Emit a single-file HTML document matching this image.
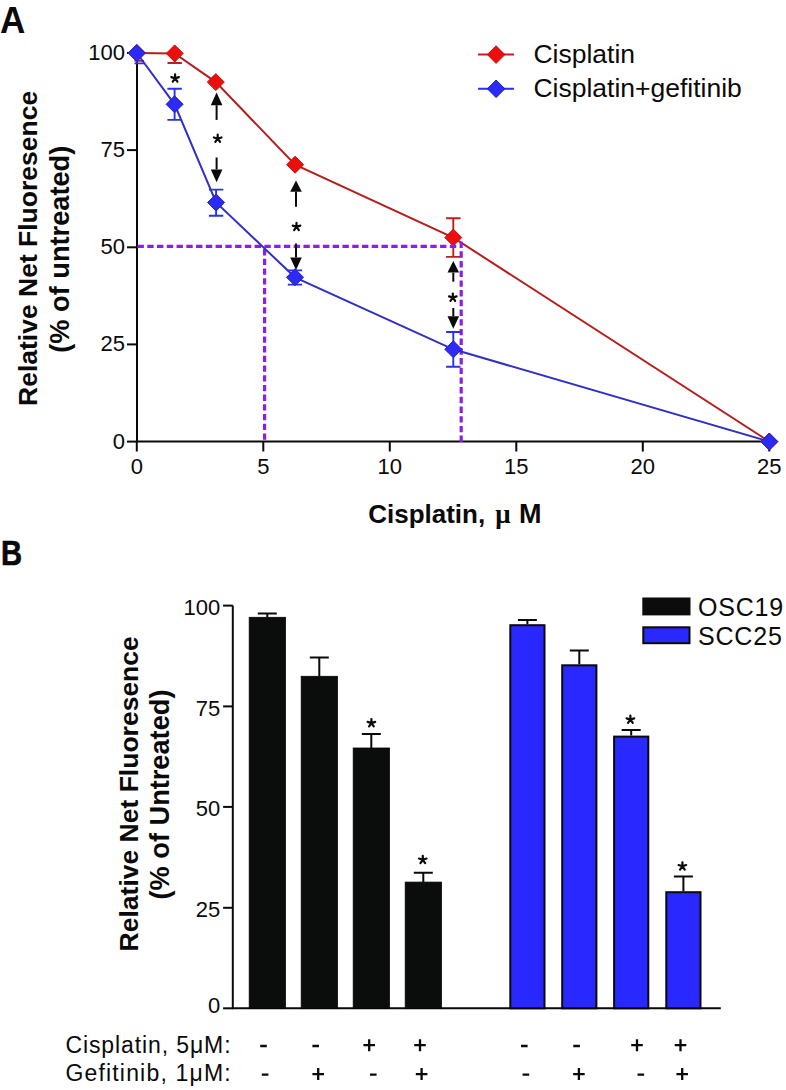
<!DOCTYPE html><html><head><meta charset="utf-8"><style>
html,body{margin:0;padding:0;background:#fff;width:786px;height:1090px;overflow:hidden}
svg{display:block}
text{font-family:"Liberation Sans",sans-serif}
</style></head><body>
<svg width="786" height="1090" viewBox="0 0 786 1090">
<text transform="translate(0,33.3) scale(1,1.05)" x="0" y="0" font-size="35" font-weight="bold" fill="#0a0a0a">A</text>
<g stroke="#0a0a0a" stroke-width="2" fill="none">
<path d="M137 52.9 V441.6 H769.3"/>
<path d="M127 441.6 H137"/>
<path d="M127 344.4 H137"/>
<path d="M127 247.3 H137"/>
<path d="M127 150.1 H137"/>
<path d="M127 52.9 H137"/>
<path d="M136.8 441.6 V451.5"/>
<path d="M263.3 441.6 V451.5"/>
<path d="M389.8 441.6 V451.5"/>
<path d="M516.3 441.6 V451.5"/>
<path d="M642.8 441.6 V451.5"/>
<path d="M769.3 441.6 V451.5"/>
</g>
<g font-size="22" fill="#0a0a0a" text-anchor="end">
<text x="124.9" y="448.6">0</text>
<text x="124.9" y="351.4">25</text>
<text x="124.9" y="254.3">50</text>
<text x="124.9" y="157.1">75</text>
<text x="124.9" y="59.9">100</text>
</g>
<g font-size="22" fill="#0a0a0a" text-anchor="middle">
<text x="136.8" y="473.8">0</text>
<text x="263.3" y="473.8">5</text>
<text x="389.8" y="473.8">10</text>
<text x="516.3" y="473.8">15</text>
<text x="642.8" y="473.8">20</text>
<text x="769.3" y="473.8">25</text>
</g>
<text transform="translate(36.7,406) rotate(-90)" font-size="26.5" font-weight="bold" fill="#0a0a0a">Relative Net Fluoresence</text>
<text transform="translate(69.4,352.7) rotate(-90)" font-size="27.2" font-weight="bold" fill="#0a0a0a">(% of untreated)</text>
<text x="368.2" y="523.3" font-size="26" font-weight="bold" fill="#0a0a0a">Cisplatin,</text>
<text x="495.3" y="523.3" font-size="27" font-weight="bold" fill="#0a0a0a" style="font-family:'Liberation Serif'">μ</text>
<text x="518.9" y="523.3" font-size="27" font-weight="bold" fill="#0a0a0a">M</text>
<polyline points="136.8,53.0 174.7,53.4 215.8,82.1 295.1,164.7 453.3,237.6 769.3,441.6" fill="none" stroke="#b61e1e" stroke-width="2"/>
<path d="M136.8 53 V60.9 M134.5 60.9 H144" stroke="#c41c1c" stroke-width="1.9" fill="none"/>
<path d="M174.7 53.4 V63.0 M167.5 63.0 H181.9" stroke="#c41c1c" stroke-width="1.9" fill="none"/>
<path d="M453.3 237.6 V218.2 M446.1 218.2 H460.5" stroke="#c41c1c" stroke-width="1.9" fill="none"/>
<path d="M453.3 237.6 V256.9 M446.1 256.9 H460.5" stroke="#c41c1c" stroke-width="1.9" fill="none"/>
<path d="M128.3 53.0 L136.8 44.5 L145.3 53.0 L136.8 61.5 Z" fill="#ec0d0d" stroke="#c01414" stroke-width="1"/>
<path d="M166.2 53.4 L174.7 44.9 L183.2 53.4 L174.7 61.9 Z" fill="#ec0d0d" stroke="#c01414" stroke-width="1"/>
<path d="M207.3 82.1 L215.8 73.6 L224.3 82.1 L215.8 90.6 Z" fill="#ec0d0d" stroke="#c01414" stroke-width="1"/>
<path d="M286.6 164.7 L295.1 156.2 L303.6 164.7 L295.1 173.2 Z" fill="#ec0d0d" stroke="#c01414" stroke-width="1"/>
<path d="M444.8 237.6 L453.3 229.1 L461.8 237.6 L453.3 246.1 Z" fill="#ec0d0d" stroke="#c01414" stroke-width="1"/>
<path d="M760.8 441.6 L769.3 433.1 L777.8 441.6 L769.3 450.1 Z" fill="#ec0d0d" stroke="#c01414" stroke-width="1"/>
<g stroke="#8c1ee6" stroke-width="3.2" fill="none">
<path d="M137.5 246.3 H459" stroke-dasharray="6.4 3.36"/>
<path d="M264.6 439.7 V248" stroke-dasharray="6.3 3.4"/>
<path d="M461.2 442 V241.4" stroke-dasharray="6.4 3.3"/>
</g>
<polyline points="136.8,53.0 174.6,104.3 216.1,202.5 295,277.3 453.3,349.3 769.3,441.6" fill="none" stroke="#3030c8" stroke-width="2"/>
<path d="M136.8 53 V63.4 M134.5 63.4 H144" stroke="#2a30e8" stroke-width="1.9" fill="none"/>
<path d="M174.6 104.3 V88.8 M167.4 88.8 H181.8" stroke="#2a30e8" stroke-width="1.9" fill="none"/>
<path d="M174.6 104.3 V119.9 M167.4 119.9 H181.8" stroke="#2a30e8" stroke-width="1.9" fill="none"/>
<path d="M216.1 202.5 V189.6 M208.9 189.6 H223.3" stroke="#2a30e8" stroke-width="1.9" fill="none"/>
<path d="M216.1 202.5 V215.7 M208.9 215.7 H223.3" stroke="#2a30e8" stroke-width="1.9" fill="none"/>
<path d="M295.0 277.3 V270.4 M287.8 270.4 H302.2" stroke="#2a30e8" stroke-width="1.9" fill="none"/>
<path d="M295.0 277.3 V284.6 M287.8 284.6 H302.2" stroke="#2a30e8" stroke-width="1.9" fill="none"/>
<path d="M453.3 349.3 V332.0 M446.1 332.0 H460.5" stroke="#2a30e8" stroke-width="1.9" fill="none"/>
<path d="M453.3 349.3 V366.7 M446.1 366.7 H460.5" stroke="#2a30e8" stroke-width="1.9" fill="none"/>
<path d="M128.3 53.0 L136.8 44.5 L145.3 53.0 L136.8 61.5 Z" fill="#2b2bf5" stroke="#2020c8" stroke-width="1"/>
<path d="M166.1 104.3 L174.6 95.8 L183.1 104.3 L174.6 112.8 Z" fill="#2b2bf5" stroke="#2020c8" stroke-width="1"/>
<path d="M207.6 202.5 L216.1 194.0 L224.6 202.5 L216.1 211.0 Z" fill="#2b2bf5" stroke="#2020c8" stroke-width="1"/>
<path d="M286.5 277.3 L295.0 268.8 L303.5 277.3 L295.0 285.8 Z" fill="#2b2bf5" stroke="#2020c8" stroke-width="1"/>
<path d="M444.8 349.3 L453.3 340.8 L461.8 349.3 L453.3 357.8 Z" fill="#2b2bf5" stroke="#2020c8" stroke-width="1"/>
<path d="M760.8 441.6 L769.3 433.1 L777.8 441.6 L769.3 450.1 Z" fill="#2b2bf5" stroke="#2020c8" stroke-width="1"/>
<path d="M216.6 105.2 V119.9" stroke="#0a0a0a" stroke-width="2"/><path d="M216.6 92.4 L222.4 105.2 L210.79999999999998 105.2 Z" fill="#0a0a0a"/>
<path d="M216.6 157.5 V169.4" stroke="#0a0a0a" stroke-width="2"/><path d="M216.6 182.3 L222.4 169.4 L210.79999999999998 169.4 Z" fill="#0a0a0a"/>
<path d="M296 191.7 V206.8" stroke="#0a0a0a" stroke-width="2"/><path d="M296 180.4 L301.8 191.7 L290.2 191.7 Z" fill="#0a0a0a"/>
<path d="M296 243.5 V257.5" stroke="#0a0a0a" stroke-width="2"/><path d="M296 270 L301.8 257.5 L290.2 257.5 Z" fill="#0a0a0a"/>
<path d="M453.3 272.6 V281.7" stroke="#0a0a0a" stroke-width="2"/><path d="M453.3 261 L459.1 272.6 L447.5 272.6 Z" fill="#0a0a0a"/>
<path d="M453.3 308 V316.3" stroke="#0a0a0a" stroke-width="2"/><path d="M453.3 328.7 L459.1 316.3 L447.5 316.3 Z" fill="#0a0a0a"/>
<path d="M175.10 78.40 L175.10 74.40 M175.10 78.40 L178.90 77.16 M175.10 78.40 L177.45 81.64 M175.10 78.40 L172.75 81.64 M175.10 78.40 L171.30 77.16 " stroke="#0a0a0a" stroke-width="2.2" stroke-linecap="round" fill="none"/>
<path d="M217.70 138.70 L217.70 134.70 M217.70 138.70 L221.50 137.46 M217.70 138.70 L220.05 141.94 M217.70 138.70 L215.35 141.94 M217.70 138.70 L213.90 137.46 " stroke="#0a0a0a" stroke-width="2.2" stroke-linecap="round" fill="none"/>
<path d="M296.50 226.90 L296.50 222.90 M296.50 226.90 L300.30 225.66 M296.50 226.90 L298.85 230.14 M296.50 226.90 L294.15 230.14 M296.50 226.90 L292.70 225.66 " stroke="#0a0a0a" stroke-width="2.2" stroke-linecap="round" fill="none"/>
<path d="M452.80 297.60 L452.80 293.60 M452.80 297.60 L456.60 296.36 M452.80 297.60 L455.15 300.84 M452.80 297.60 L450.45 300.84 M452.80 297.60 L449.00 296.36 " stroke="#0a0a0a" stroke-width="2.2" stroke-linecap="round" fill="none"/>
<path d="M478 54.6 H514" stroke="#c41c1c" stroke-width="2"/><path d="M487.3 54.6 L496.1 45.8 L504.9 54.6 L496.1 63.4 Z" fill="#ec0d0d" stroke="#c01414" stroke-width="1"/>
<path d="M478 88.8 H514" stroke="#2a30e8" stroke-width="2"/><path d="M487.3 88.8 L496.1 80.0 L504.9 88.8 L496.1 97.6 Z" fill="#2b2bf5" stroke="#2020c8" stroke-width="1"/>
<text x="533.4" y="63" font-size="26.5" fill="#0a0a0a">Cisplatin</text>
<text x="533.4" y="97" font-size="26.5" fill="#0a0a0a">Cisplatin+gefitinib</text>
<text transform="translate(1.1,565.2) scale(0.86,1.02)" font-size="34" font-weight="bold" fill="#0a0a0a" stroke="#0a0a0a" stroke-width="0.6">B</text>
<g stroke="#0a0a0a" stroke-width="2" fill="none">
<path d="M232.8 605.6 V1008.3 H720.8"/>
<path d="M223.1 605.6 H232.8"/>
<path d="M223.1 706.4 H232.8"/>
<path d="M223.1 806.9 H232.8"/>
<path d="M223.1 907.8 H232.8"/>
<path d="M223.1 1008.3 H232.8"/>
</g>
<g font-size="22" fill="#0a0a0a" text-anchor="end">
<text x="220.3" y="614.7">100</text>
<text x="220.3" y="715.5">75</text>
<text x="220.3" y="816.0">50</text>
<text x="220.3" y="916.9">25</text>
<text x="220.3" y="1013.3">0</text>
</g>
<text transform="translate(137.5,951.4) rotate(-90)" font-size="26.5" font-weight="bold" fill="#0a0a0a">Relative Net Fluoresence</text>
<text transform="translate(168.6,899.5) rotate(-90)" font-size="27.2" font-weight="bold" fill="#0a0a0a">(% of Untreated)</text>
<rect x="249.2" y="617.3" width="36.2" height="391.0" fill="#0b0d0c" stroke="#000" stroke-width="0.8"/>
<path d="M267.3 617.3 V613.6 M257.8 613.6 H276.8" stroke="#0a0a0a" stroke-width="2" fill="none"/>
<rect x="301.2" y="676.3" width="36.2" height="332.0" fill="#0b0d0c" stroke="#000" stroke-width="0.8"/>
<path d="M319.3 676.3 V657.4 M309.8 657.4 H328.8" stroke="#0a0a0a" stroke-width="2" fill="none"/>
<rect x="353.2" y="748" width="36.2" height="260.3" fill="#0b0d0c" stroke="#000" stroke-width="0.8"/>
<path d="M371.3 748 V733.9 M361.8 733.9 H380.8" stroke="#0a0a0a" stroke-width="2" fill="none"/>
<rect x="405.2" y="882.1" width="36.2" height="126.2" fill="#0b0d0c" stroke="#000" stroke-width="0.8"/>
<path d="M423.3 882.1 V872.7 M413.8 872.7 H432.8" stroke="#0a0a0a" stroke-width="2" fill="none"/>
<rect x="510.3" y="625.2" width="34.2" height="383.1" fill="#2828ff" stroke="#0a0a0a" stroke-width="2"/>
<path d="M527.4 624.2 V619.9 M517.9 619.9 H536.9" stroke="#0a0a0a" stroke-width="2" fill="none"/>
<rect x="562.2" y="665.3" width="34.2" height="343.0" fill="#2828ff" stroke="#0a0a0a" stroke-width="2"/>
<path d="M579.3 664.3 V650.4 M569.8 650.4 H588.8" stroke="#0a0a0a" stroke-width="2" fill="none"/>
<rect x="614.1" y="736.6" width="34.2" height="271.7" fill="#2828ff" stroke="#0a0a0a" stroke-width="2"/>
<path d="M631.2 735.6 V730 M621.7 730 H640.7" stroke="#0a0a0a" stroke-width="2" fill="none"/>
<rect x="666.3" y="892.2" width="34.2" height="116.1" fill="#2828ff" stroke="#0a0a0a" stroke-width="2"/>
<path d="M683.4 891.2 V876.4 M673.9 876.4 H692.9" stroke="#0a0a0a" stroke-width="2" fill="none"/>
<path d="M371.40 723.10 L371.40 719.10 M371.40 723.10 L375.20 721.86 M371.40 723.10 L373.75 726.34 M371.40 723.10 L369.05 726.34 M371.40 723.10 L367.60 721.86 " stroke="#0a0a0a" stroke-width="2.2" stroke-linecap="round" fill="none"/>
<path d="M422.80 859.80 L422.80 855.80 M422.80 859.80 L426.60 858.56 M422.80 859.80 L425.15 863.04 M422.80 859.80 L420.45 863.04 M422.80 859.80 L419.00 858.56 " stroke="#0a0a0a" stroke-width="2.2" stroke-linecap="round" fill="none"/>
<path d="M630.40 719.60 L630.40 715.60 M630.40 719.60 L634.20 718.36 M630.40 719.60 L632.75 722.84 M630.40 719.60 L628.05 722.84 M630.40 719.60 L626.60 718.36 " stroke="#0a0a0a" stroke-width="2.2" stroke-linecap="round" fill="none"/>
<path d="M682.40 866.30 L682.40 862.30 M682.40 866.30 L686.20 865.06 M682.40 866.30 L684.75 869.54 M682.40 866.30 L680.05 869.54 M682.40 866.30 L678.60 865.06 " stroke="#0a0a0a" stroke-width="2.2" stroke-linecap="round" fill="none"/>
<rect x="642.3" y="597.5" width="48.2" height="17.9" fill="#0b0d0c"/>
<rect x="643.3" y="627.3" width="46.2" height="15.9" fill="#2828ff" stroke="#0a0a0a" stroke-width="2"/>
<text x="698" y="615.8" font-size="25" fill="#0a0a0a" letter-spacing="0.8">OSC19</text>
<text x="698" y="644.6" font-size="25" fill="#0a0a0a" letter-spacing="0.8">SCC25</text>
<text x="65.4" y="1052.6" font-size="23" fill="#0a0a0a" letter-spacing="0.9">Cisplatin, 5μM:</text>
<text x="65.4" y="1081.4" font-size="23" fill="#0a0a0a" letter-spacing="1.18">Gefitinib, 1μM:</text>
<path d="M260.2 1046 H266.8M312.4 1046 H319.0M363.4 1045.2 H375.0 M369.2 1039.2 V1051.2M414.2 1045.2 H425.8 M420 1039.2 V1051.2M521.0 1046 H527.6M573.3 1046 H579.9M631.2 1045.2 H642.8 M637 1039.2 V1051.2M674.7 1045.2 H686.3 M680.5 1039.2 V1051.2M261.8 1074.7 H268.4M312.4 1074.1 H324.0 M318.2 1068.1 V1080.1M370.0 1074.7 H376.6M415.8 1074.1 H427.4 M421.6 1068.1 V1080.1M522.6 1074.7 H529.2M573.1 1074.1 H584.7 M578.9 1068.1 V1080.1M637.5 1074.7 H644.1M676.4 1074.1 H688.0 M682.2 1068.1 V1080.1" stroke="#0a0a0a" stroke-width="2.3" fill="none"/>
</svg></body></html>
